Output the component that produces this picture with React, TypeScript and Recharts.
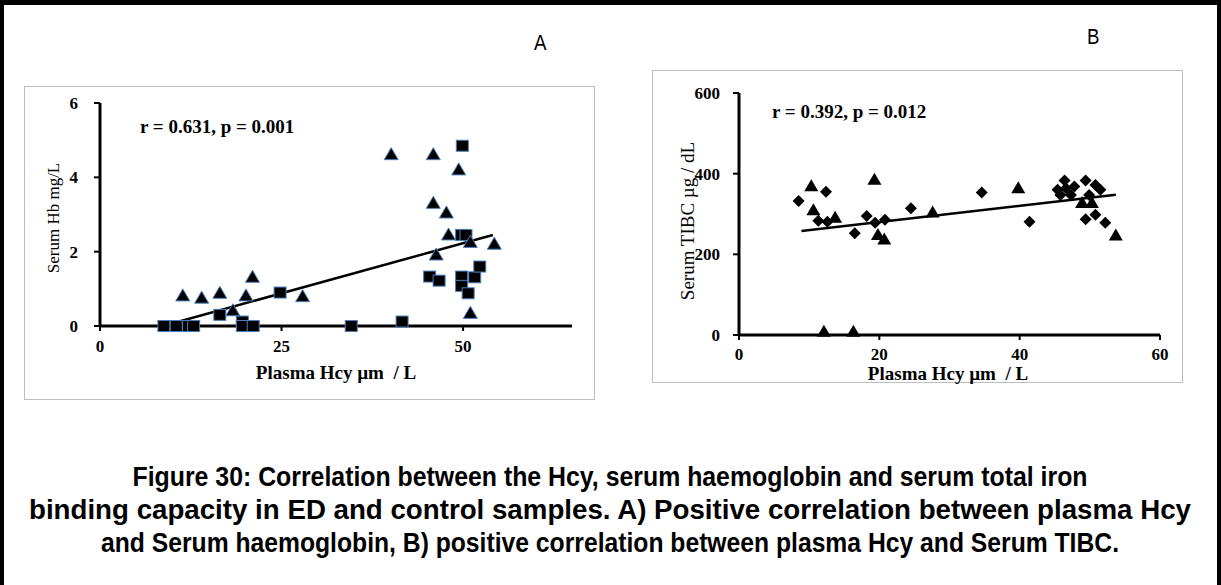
import React from "react";
import { ScatterChart, Scatter, XAxis, YAxis } from "recharts";

// Panel A: plasma Hcy vs serum Hb
const hbSquares = [
  { x: 8.8, y: 0 }, { x: 10.5, y: 0 }, { x: 12.2, y: 0 }, { x: 12.9, y: 0 },
  { x: 16.5, y: 0.3 }, { x: 19.6, y: 0.12 }, { x: 19.6, y: 0 }, { x: 21.1, y: 0 },
  { x: 24.8, y: 0.9 }, { x: 34.6, y: 0 }, { x: 41.6, y: 0.12 }, { x: 45.4, y: 1.33 },
  { x: 46.7, y: 1.22 }, { x: 49.9, y: 4.85 }, { x: 49.8, y: 2.45 }, { x: 50.4, y: 2.45 },
  { x: 49.8, y: 1.33 }, { x: 49.8, y: 1.08 }, { x: 50.7, y: 0.88 }, { x: 51.6, y: 1.31 },
  { x: 52.3, y: 1.6 },
];
const hbTriangles = [
  { x: 11.4, y: 0.81 }, { x: 14.0, y: 0.75 }, { x: 16.5, y: 0.88 }, { x: 18.3, y: 0.41 },
  { x: 20.1, y: 0.81 }, { x: 21.0, y: 1.31 }, { x: 27.9, y: 0.79 }, { x: 40.1, y: 4.61 },
  { x: 45.9, y: 4.61 }, { x: 45.9, y: 3.3 }, { x: 46.3, y: 1.91 }, { x: 47.7, y: 3.04 },
  { x: 48.0, y: 2.45 }, { x: 49.4, y: 4.2 }, { x: 51.0, y: 2.25 }, { x: 51.0, y: 0.34 },
  { x: 54.3, y: 2.2 },
];
const hbTrend = [{ x: 10.9, y: 0.12 }, { x: 54.1, y: 2.45 }];
const hbXTicks = [0, 25, 50];
const hbYTicks = [0, 2, 4, 6];

// Panel B: plasma Hcy vs serum TIBC
const tibcDiamonds = [
  { x: 8.5, y: 332 }, { x: 12.4, y: 355 }, { x: 11.3, y: 283 }, { x: 12.6, y: 281 },
  { x: 16.5, y: 252 }, { x: 18.2, y: 295 }, { x: 19.4, y: 278 }, { x: 20.8, y: 286 },
  { x: 24.5, y: 314 }, { x: 34.6, y: 353 }, { x: 41.4, y: 281 }, { x: 46.4, y: 383 },
  { x: 45.4, y: 360 }, { x: 46.6, y: 364 }, { x: 47.8, y: 368 }, { x: 45.8, y: 347 },
  { x: 47.3, y: 347 }, { x: 49.4, y: 383 }, { x: 50.8, y: 372 }, { x: 51.5, y: 360 },
  { x: 49.9, y: 347 }, { x: 49.4, y: 287 }, { x: 50.8, y: 298 }, { x: 52.2, y: 278 },
];
const tibcTriangles = [
  { x: 10.3, y: 369 }, { x: 10.6, y: 309 }, { x: 13.7, y: 291 }, { x: 19.3, y: 385 },
  { x: 19.8, y: 248 }, { x: 20.7, y: 237 }, { x: 27.6, y: 304 }, { x: 39.8, y: 364 },
  { x: 48.9, y: 327 }, { x: 50.3, y: 327 }, { x: 53.7, y: 247 }, { x: 12.1, y: 8 },
  { x: 16.3, y: 8 },
];
const tibcTrend = [{ x: 8.9, y: 258 }, { x: 53.7, y: 348 }];
const tibcXTicks = [0, 20, 40, 60];
const tibcYTicks = [0, 200, 400, 600];

const captionLines = [
  "Figure 30: Correlation between the Hcy, serum haemoglobin and serum total iron",
  "binding capacity in ED and control samples. A) Positive correlation between plasma Hcy",
  "and Serum haemoglobin, B) positive correlation between plasma Hcy and Serum TIBC.",
];
const captionWidths = [955, 1162, 1018];

const serif = "'Liberation Serif', 'Times New Roman', serif";
const tickFont = { fill: "#000", fontSize: 17, fontWeight: "bold", fontFamily: serif };

const Square = (p: any) => (
  <rect x={p.cx - 6} y={p.cy - 5.5} width={12} height={11} fill="#000" stroke="#4a7ebb" strokeWidth={1} />
);
const TriangleA = (p: any) => (
  <path d={`M${p.cx},${p.cy - 7}L${p.cx + 7},${p.cy + 5}L${p.cx - 7},${p.cy + 5}Z`} fill="#000" stroke="#4a7ebb" strokeWidth={1} />
);
const TriangleB = (p: any) => (
  <path d={`M${p.cx},${p.cy - 7}L${p.cx + 7},${p.cy + 5}L${p.cx - 7},${p.cy + 5}Z`} fill="#000" />
);
const Diamond = (p: any) => (
  <path d={`M${p.cx},${p.cy - 6}L${p.cx + 6},${p.cy}L${p.cx},${p.cy + 6}L${p.cx - 6},${p.cy}Z`} fill="#000" />
);
const NoDot = () => <g />;

const box: React.CSSProperties = { position: "absolute", border: "1px solid #bdbdbd", boxSizing: "border-box" };
const letterFont = "'Liberation Sans Narrow', 'Liberation Sans', sans-serif";

export default function App() {
  return (
    <div
      style={{
        position: "absolute", left: 0, top: 0, width: 1221, height: 585, background: "#fff",
        borderTop: "5px solid #000", borderLeft: "4px solid #000", borderRight: "4px solid #000",
        boxSizing: "border-box", overflow: "hidden",
      }}
    >
      <div style={{ position: "absolute", left: 0, top: 0, width: 1221, height: 585, marginLeft: -4, marginTop: -5 }}>
        {/* panel letters */}
        <div style={{ position: "absolute", left: 533, top: 30, fontSize: 22, fontFamily: letterFont, transform: "scaleX(0.85)" }}>A</div>
        <div style={{ position: "absolute", left: 1086, top: 24, fontSize: 22, fontFamily: letterFont, transform: "scaleX(0.85)" }}>B</div>

        {/* Panel A */}
        <div style={{ ...box, left: 24, top: 86, width: 571, height: 314 }}>
          <ScatterChart width={569} height={312} margin={{ top: 16, right: 22, bottom: 43, left: 15 }}>
            <XAxis type="number" dataKey="x" domain={[0, 65]} ticks={hbXTicks} tick={tickFont}
              axisLine={{ stroke: "#000", strokeWidth: 3 }} tickLine={{ stroke: "#000", strokeWidth: 2 }}
              tickSize={5} tickMargin={9} height={30} />
            <YAxis type="number" dataKey="y" domain={[0, 6]} ticks={hbYTicks} tick={tickFont}
              axisLine={{ stroke: "#000", strokeWidth: 3 }} tickLine={{ stroke: "#000", strokeWidth: 2 }}
              tickSize={6} tickMargin={16} width={60} />
            <Scatter data={hbTrend} line={{ stroke: "#000", strokeWidth: 2.5 }} shape={NoDot} isAnimationActive={false} />
            <Scatter data={hbSquares} shape={Square} isAnimationActive={false} />
            <Scatter data={hbTriangles} shape={TriangleA} isAnimationActive={false} />
          </ScatterChart>
        </div>
        <div style={{ position: "absolute", left: 140, top: 116, fontSize: 19, fontWeight: "bold", fontFamily: serif, whiteSpace: "pre" }}>
          r = 0.631, p = 0.001
        </div>
        <div style={{ position: "absolute", left: 54, top: 218, transform: "translate(-50%, -50%) rotate(-90deg)", fontSize: 17, fontFamily: serif, whiteSpace: "pre" }}>
          Serum Hb mg/L
        </div>
        <div style={{ position: "absolute", left: 336, top: 373, transform: "translate(-50%, -50%)", fontSize: 19, fontWeight: "bold", fontFamily: serif, whiteSpace: "pre" }}>
          Plasma Hcy µm  / L
        </div>

        {/* Panel B */}
        <div style={{ ...box, left: 652, top: 70, width: 531, height: 313 }}>
          <ScatterChart width={529} height={311} margin={{ top: 22, right: 22, bottom: 17, left: 26 }}>
            <XAxis type="number" dataKey="x" domain={[0, 60]} ticks={tibcXTicks} tick={tickFont}
              axisLine={{ stroke: "#000", strokeWidth: 3 }} tickLine={{ stroke: "#000", strokeWidth: 2 }}
              tickSize={5} tickMargin={8} height={30} />
            <YAxis type="number" dataKey="y" domain={[0, 600]} ticks={tibcYTicks} tick={tickFont}
              axisLine={{ stroke: "#000", strokeWidth: 3 }} tickLine={{ stroke: "#000", strokeWidth: 2 }}
              tickSize={6} tickMargin={13} width={60} />
            <Scatter data={tibcTrend} line={{ stroke: "#000", strokeWidth: 2.5 }} shape={NoDot} isAnimationActive={false} />
            <Scatter data={tibcDiamonds} shape={Diamond} isAnimationActive={false} />
            <Scatter data={tibcTriangles} shape={TriangleB} isAnimationActive={false} />
          </ScatterChart>
        </div>
        <div style={{ position: "absolute", left: 772, top: 101, fontSize: 19, fontWeight: "bold", fontFamily: serif, whiteSpace: "pre" }}>
          r = 0.392, p = 0.012
        </div>
        <div style={{ position: "absolute", left: 688, top: 221, transform: "translate(-50%, -50%) rotate(-90deg)", fontSize: 19, fontFamily: serif, whiteSpace: "pre" }}>
          Serum TIBC µg / dL
        </div>
        <div style={{ position: "absolute", left: 948, top: 374, transform: "translate(-50%, -50%)", fontSize: 19, fontWeight: "bold", fontFamily: serif, whiteSpace: "pre" }}>
          Plasma Hcy µm  / L
        </div>

        {/* caption */}
        <svg style={{ position: "absolute", left: 0, top: 450 }} width={1221} height={130}>
          {captionLines.map((line, i) => (
            <text key={i} x={610} y={36 + i * 33} textAnchor="middle" fontSize={27} fontWeight="bold"
              fontFamily="'Liberation Sans Narrow', 'Liberation Sans', Arial, sans-serif"
              textLength={captionWidths[i]} lengthAdjust="spacingAndGlyphs" fill="#000">
              {line}
            </text>
          ))}
        </svg>
      </div>
    </div>
  );
}
